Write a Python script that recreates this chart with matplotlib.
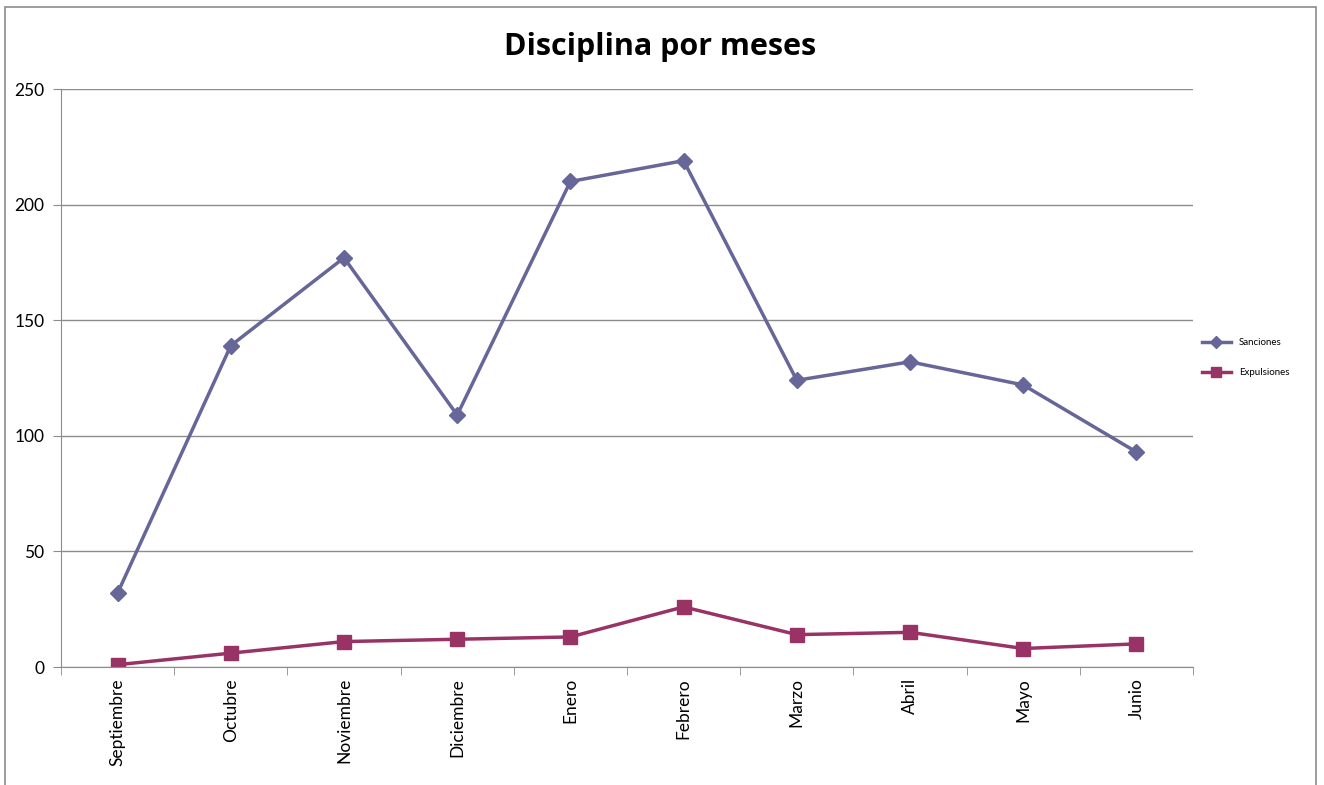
import matplotlib.pyplot as plt
from matplotlib.patches import Rectangle
import numpy as np

# Data
meses = ["Septiembre", "Octubre", "Noviembre", "Diciembre", "Enero",
         "Febrero", "Marzo", "Abril", "Mayo", "Junio"]
sanciones = [32, 139, 177, 109, 210, 219, 124, 132, 122, 93]
expulsiones = [1, 6, 11, 12, 13, 26, 14, 15, 8, 10]

plt.rcParams['font.family'] = ['Lato', 'DejaVu Sans']

fig = plt.figure(figsize=(13.24, 7.85), dpi=100)
ax = fig.add_axes([61 / 1324, 1 - 667 / 785, (1193 - 61) / 1324, (667 - 89) / 785])

# outer chart border
fig.patches.append(Rectangle((5 / 1324, -0.01), (1316 - 5) / 1324, 1 - 7 / 785 + 0.01,
                             transform=fig.transFigure, fill=False,
                             edgecolor='#8c8c8c', linewidth=1.2))

x = np.arange(len(meses))
ax.plot(x, sanciones, color='#666699', linewidth=2.5, marker='D',
        markersize=8, label='Sanciones')
ax.plot(x, expulsiones, color='#993366', linewidth=2.5, marker='s',
        markersize=10, label='Expulsiones')

ax.set_xlim(-0.5, len(meses) - 0.5)
ax.set_ylim(0, 250)
ax.set_yticks(range(0, 251, 50))
ax.grid(axis='y', color='#8c8c8c', linewidth=1)
ax.set_axisbelow(True)

ax.set_xticks(x)
ax.set_xticklabels(meses, rotation=90, fontsize=12.5)
ax.tick_params(axis='x', length=0, pad=8)
ax.set_xticks(np.arange(-0.5, len(meses)), minor=True)
ax.tick_params(axis='x', which='minor', length=6, color='#8c8c8c')
ax.tick_params(axis='y', length=6, color='#8c8c8c', labelsize=12.5, pad=6)

for s in ['top', 'right']:
    ax.spines[s].set_visible(False)
for s in ['left', 'bottom']:
    ax.spines[s].set_color('#8c8c8c')

fig.text(0.4985, 1 - 47 / 785, "Disciplina por meses", ha='center', va='center',
         fontsize=22, fontweight='bold', family=['Open Sans', 'DejaVu Sans'])

ax.legend(loc='center left', bbox_to_anchor=(1.0, 0.535), frameon=False,
          fontsize=7, handlelength=3, labelspacing=2.2, markerscale=0.75)

fig.savefig('out.png', dpi=100)
